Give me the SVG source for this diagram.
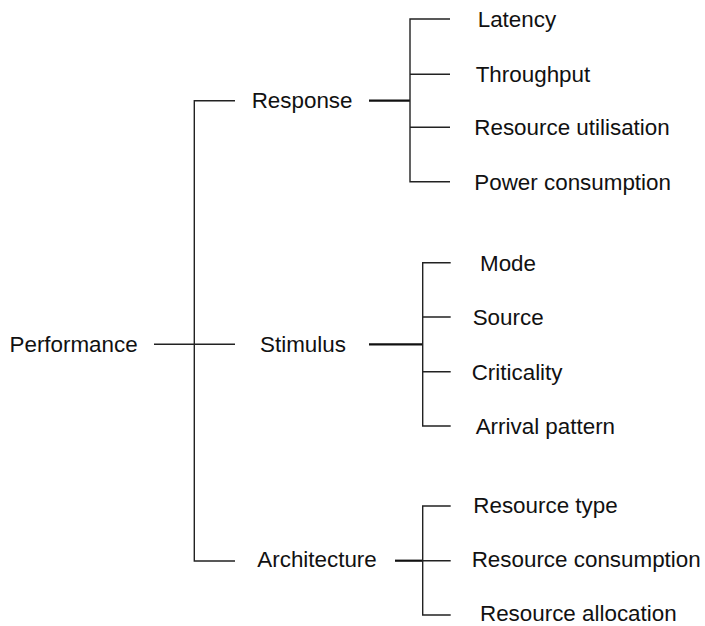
<svg xmlns="http://www.w3.org/2000/svg" width="705" height="626" viewBox="0 0 705 626">
  <style>
    .lbl { font-family: "Liberation Sans", Arial, sans-serif; font-size: 22.4px; fill: #111; }
    .thin { stroke: #222; stroke-width: 1.4; fill: none; }
    .thick { stroke: #111; stroke-width: 2.2; fill: none; }
  </style>
  <rect width="705" height="626" fill="#fff"/>

  <!-- connectors -->
  <g id="connectors">
    <!-- root bracket -->
    <path class="thin" d="M154 344.3 H235 M235 100.7 H194.3 V561 H235"/>
    <!-- Response bracket -->
    <path class="thick" d="M369 100.7 H410"/>
    <path class="thin" d="M450 19 H410 V181.7 H450 M410 74.3 H450 M410 127.3 H450"/>
    <!-- Stimulus bracket -->
    <path class="thick" d="M369 344.3 H422.7"/>
    <path class="thin" d="M450.7 262.7 H422.7 V426 H450.7 M422.7 317 H450.7 M422.7 371.7 H450.7"/>
    <!-- Architecture bracket -->
    <path class="thick" d="M395 560.7 H422.7"/>
    <path class="thin" d="M450.7 506 H422.7 V615 H450.7 M422.7 560.7 H450.7"/>
  </g>

  <!-- nodes -->
  <g id="performance"><text class="lbl" x="9.5" y="351.8">Performance</text></g>

  <g id="response"><text class="lbl" x="251.7" y="108.3">Response</text></g>
  <g id="stimulus"><text class="lbl" x="260" y="351.8">Stimulus</text></g>
  <g id="architecture"><text class="lbl" x="257.3" y="567">Architecture</text></g>

  <g id="latency"><text class="lbl" x="477.7" y="26.8">Latency</text></g>
  <g id="throughput"><text class="lbl" x="475.7" y="82">Throughput</text></g>
  <g id="resource-utilisation"><text class="lbl" x="474.3" y="135">Resource utilisation</text></g>
  <g id="power-consumption"><text class="lbl" x="474.3" y="189.5">Power consumption</text></g>

  <g id="mode"><text class="lbl" x="480" y="270.5">Mode</text></g>
  <g id="source"><text class="lbl" x="472.7" y="325">Source</text></g>
  <g id="criticality"><text class="lbl" x="471.7" y="379.5">Criticality</text></g>
  <g id="arrival-pattern"><text class="lbl" x="475.7" y="434">Arrival pattern</text></g>

  <g id="resource-type"><text class="lbl" x="473.3" y="513">Resource type</text></g>
  <g id="resource-consumption"><text class="lbl" x="471.7" y="567">Resource consumption</text></g>
  <g id="resource-allocation"><text class="lbl" x="480" y="621">Resource allocation</text></g>
</svg>
